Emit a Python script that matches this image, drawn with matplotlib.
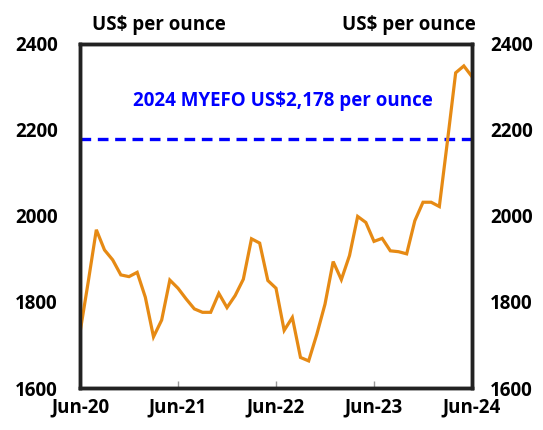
import numpy as np
import matplotlib
matplotlib.use('Agg')
import matplotlib.pyplot as plt

plt.rcParams['font.family'] = ['Open Sans', 'DejaVu Sans']
plt.rcParams['font.weight'] = 'bold'

# monthly gold price, Jun-20 .. Jun-24 (US$ per ounce)
harga = [1729, 1846, 1968, 1921, 1898, 1863, 1859, 1869, 1811, 1719,
         1758, 1851, 1832, 1807, 1784, 1776, 1776, 1820, 1787, 1815,
         1853, 1947, 1937, 1850, 1832, 1734, 1764, 1671, 1663, 1725,
         1795, 1894, 1852, 1908, 1999, 1985, 1941, 1948, 1919, 1917,
         1912, 1989, 2032, 2032, 2022, 2175, 2333, 2349, 2324]
myefo = 2178
labelX = ['Jun-20', 'Jun-21', 'Jun-22', 'Jun-23', 'Jun-24']
tickerY = np.arange(1600, 2401, 200)

bulan = np.arange(len(harga))

fig = plt.figure(figsize=(5.43, 4.30), dpi=100)
ax = fig.add_axes([80/543, 1-388/430, 392/543, 344/430])

ax.plot(bulan, harga, color='#E68A14', lw=2.3, solid_joinstyle='miter', zorder=3)
ax.axhline(myefo, color='#0000FF', lw=2.4, dashes=(3.2, 2.0), zorder=2)
ax.text((283-80)/392, (387-100)/344, '2024 MYEFO US$2,178 per ounce',
        transform=ax.transAxes, ha='center', va='center',
        color='#0000FF', fontsize=13.5, fontweight='bold')

ax.set_xlim(0, len(harga) - 1)
ax.set_ylim(1600, 2400)
ax.set_xticks(np.arange(0, len(harga), 12))
ax.set_xticklabels(labelX)
ax.set_yticks(tickerY)
ax.tick_params(axis='x', direction='in', length=5, width=1, color='#999999',
               pad=7, labelsize=13.5)
ax.tick_params(axis='y', length=0, pad=16, labelsize=13.5)

ax2 = ax.twinx()
ax2.set_ylim(1600, 2400)
ax2.set_yticks(tickerY)
ax2.tick_params(axis='y', length=0, pad=13, labelsize=13.5)

for a in (ax, ax2):
    for s in a.spines.values():
        s.set_linewidth(2.5)
        s.set_color('#222222')

fig.text(92/543, 1-25/430, 'US$ per ounce', ha='left', va='center',
         fontsize=13.5, fontweight='bold')
fig.text(476/543, 1-25/430, 'US$ per ounce', ha='right', va='center',
         fontsize=13.5, fontweight='bold')

plt.savefig('out.png', dpi=100)
plt.close(fig)
